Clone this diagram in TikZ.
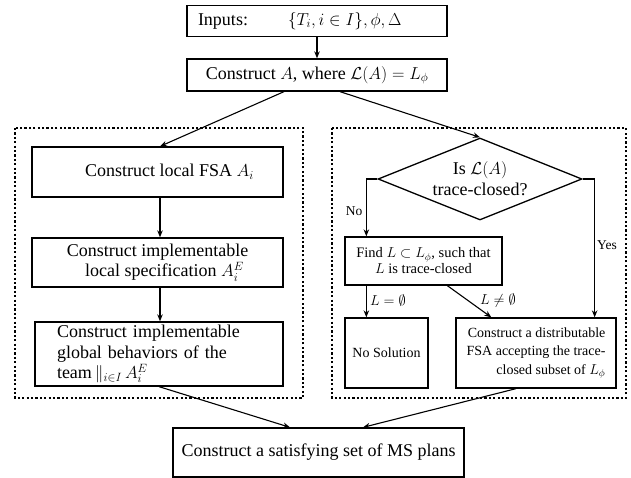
\documentclass[tikz,border=0pt]{standalone}
\usepackage[no-math]{fontspec}
\setmainfont{Liberation Serif}
\usetikzlibrary{shapes.geometric,arrows.meta,calc}
\begin{document}
\begin{tikzpicture}[x=1pt,y=-1pt,
 box/.style={draw,line width=1.3pt,inner sep=0pt,align=center,font=\fontsize{18}{20.5}\selectfont},
 sbox/.style={box,font=\fontsize{14}{16}\selectfont},
 arr/.style={line width=1.1pt,-{Stealth[length=7pt,width=5.5pt]}},
 region/.style={line width=1.2pt,dash pattern=on 2.2pt off 2.2pt},
 lab/.style={font=\fontsize{13.5}{15}\selectfont,inner sep=0pt}]
\useasboundingbox (0,0) rectangle (631,478);

\draw[region] (15,128) rectangle (303,398);
\draw[region] (332,128) rectangle (626,398);

\node[box,minimum width=260,minimum height=31,text width=238,align=left] (inputs) at (317,21) {Inputs:\hspace{40pt}$\{T_i,i\in I\},\phi,\Delta$};
\node[box,minimum width=260,minimum height=32] (consA) at (317,75) {Construct $A$,\ where $\mathcal{L}(A)=L_\phi$};

\node[box,minimum width=251,minimum height=50] (fsa) at (157.5,172) {\hspace*{24pt}Construct local FSA $A_i$};
\node[box,minimum width=251,minimum height=49] (spec) at (157.5,262.5) {Construct implementable\\\hspace*{14pt}local specification $A_i^E$};
\node[box,minimum width=248,minimum height=64,text width=204,align=left,font=\fontsize{18}{20.5}\selectfont] (glob) at (159,354) {Construct implementable\\global behaviors of the\\team$\,\|_{i\in I}\,A_i^E$};

\node[draw,line width=1.3pt,shape=diamond,aspect=2.5,inner sep=0pt,minimum width=204,minimum height=82,align=center,font=\fontsize{18}{21}\selectfont] (diam) at (480,179) {Is $\mathcal{L}(A)$\\trace-closed?};
\node[sbox,minimum width=157,minimum height=48,font=\fontsize{14.5}{16}\selectfont] (find) at (423.5,261) {Find $L\subset L_\phi$, such that\\$L$ is trace-closed};
\node[sbox,minimum width=83,minimum height=70] (nosol) at (386.5,353) {No Solution};
\node[sbox,minimum width=160,minimum height=70,align=right,font=\fontsize{14}{18.5}\selectfont] (dist) at (536,353) {Construct a distributable\\FSA accepting the trace-\\closed subset of $L_\phi$};

\node[box,minimum width=291,minimum height=49] (final) at (318.5,452.5) {Construct a satisfying set of MS plans};

\draw[arr] (inputs) -- (consA);
\draw[arr] ($(consA.south)+(-33,0)$) -- ($(fsa.north)+(2.5,0)$);
\draw[arr] ($(consA.south)+(23,0)$) -- (diam.north);
\draw[arr] ($(fsa.south)+(2.5,0)$) -- ($(spec.north)+(2.5,0)$);
\draw[arr] ($(spec.south)+(2.5,0)$) -- ($(glob.north)+(1,0)$);
\draw[arr] (diam.west) -| ($(find.north west)+(22,0)$);
\draw[arr] (diam.east) -| ($(dist.north east)+(-22,0)$);
\draw[arr] ($(find.south west)+(22,0)$) -- ($(nosol.north west)+(22,0)$);
\draw[arr] ($(find.south west)+(103,0)$) -- ($(dist.north west)+(36,0)$);
\draw[arr] (glob.south) -- ($(final.north)+(-28.5,0)$);
\draw[arr] ($(dist.south)+(-20,0)$) -- ($(final.north)+(44.5,0)$);

\node[lab] (lno) at (354,211) {No};
\node[lab] (lyes) at (607,245) {Yes};
\node[lab] (lempty) at (388,300) {$L=\emptyset$};
\node[lab] (lne) at (498,300) {$L\neq\emptyset$};
\end{tikzpicture}
\end{document}
